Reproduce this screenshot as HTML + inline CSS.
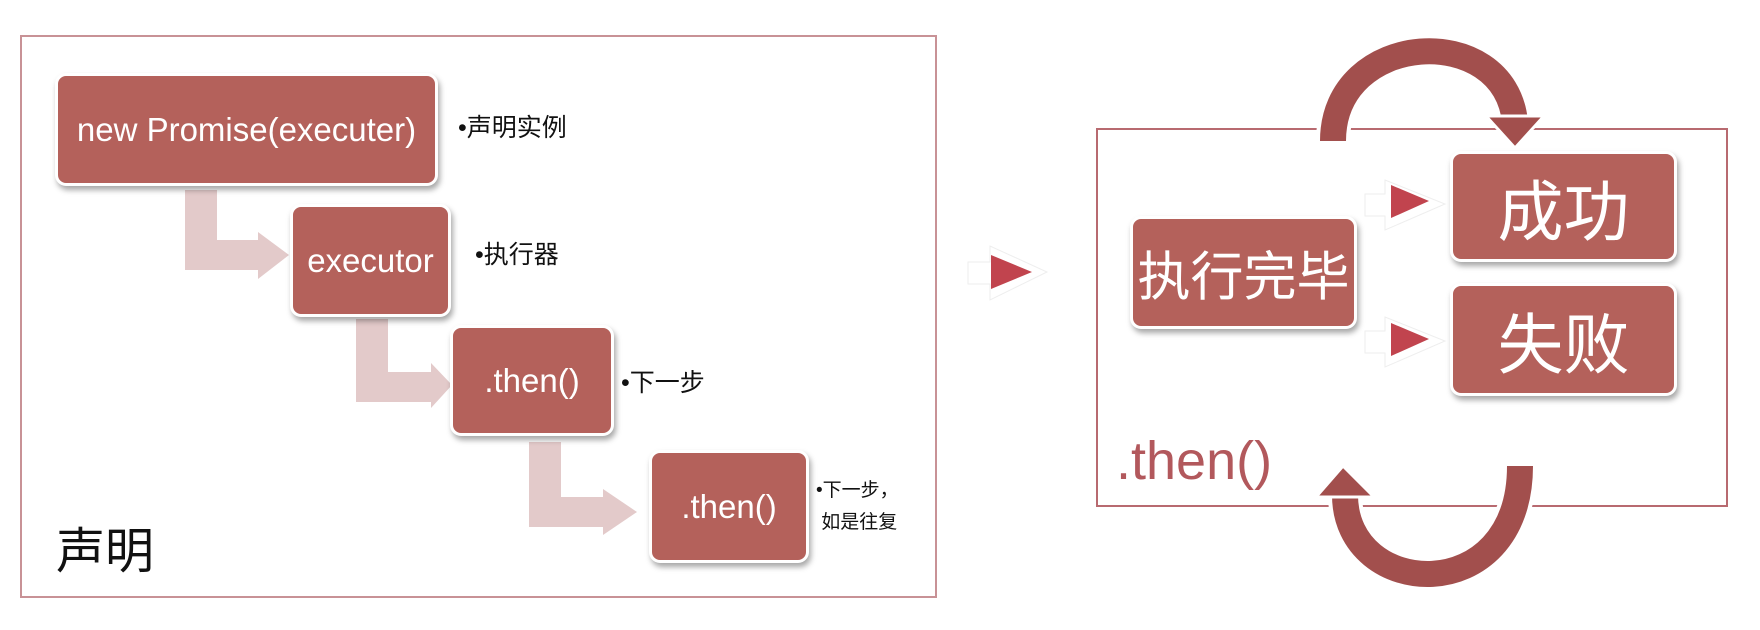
<!DOCTYPE html>
<html><head><meta charset="utf-8"><style>
body{margin:0;width:1760px;height:630px;background:#fff;position:relative;overflow:hidden;font-family:"Liberation Sans","Noto Sans CJK SC",sans-serif}
.a{position:absolute}
.box{position:absolute;background:#b4615b;border:3px solid #fff;border-radius:11px;box-shadow:2px 4px 6px rgba(0,0,0,.35);color:#fff;display:flex;align-items:center;justify-content:center;box-sizing:border-box;white-space:nowrap}
.cj{font-family:'Noto Sans CJK SC',sans-serif}
.lbl{position:absolute;color:#111;font-size:25px;white-space:nowrap}
</style></head><body>
<div class="a" style="left:20px;top:35px;width:917px;height:563px;border:2px solid #c89296;box-sizing:border-box"></div>
<svg class="a" style="left:0;top:0" width="1760" height="630">
<g fill="#e3caca">
<rect x="185" y="190" width="32" height="80"/><rect x="185" y="240" width="75" height="30"/><polygon points="258,232 289,255 258,279"/>
<rect x="356" y="319" width="32" height="83"/><rect x="356" y="372" width="77" height="30"/><polygon points="431,363 452,385 431,408"/>
<rect x="529" y="442" width="32" height="85"/><rect x="529" y="497" width="76" height="30"/><polygon points="603,489 637,512 603,535"/>
</g>
<rect x="1097" y="129" width="630" height="377" fill="none" stroke="#b86a70" stroke-width="2"/>
<g>
<polygon points="968,262 990,262 990,246 1047,272 990,300 990,284 968,284" fill="#fff" stroke="#eee" stroke-width="1"/>
<polygon points="991,255 1032,272 991,289" fill="#c1444e"/>
<polygon points="1365,194 1385,194 1385,180 1445,204 1385,230 1385,216 1365,216" fill="#fff" stroke="#eee"/>
<polygon points="1391,185 1429,201 1391,218" fill="#c1444e"/>
<polygon points="1365,331 1385,331 1385,317 1445,341 1385,367 1385,353 1365,353" fill="#fff" stroke="#eee"/>
<polygon points="1391,323 1429,339 1391,356" fill="#c1444e"/>
</g>
<g fill="none" stroke-linecap="butt">
<path d="M1333,141 C1333,30 1505,20 1515,122" stroke="#fff" stroke-width="34"/>
<path d="M1333,141 C1333,30 1505,20 1515,122" stroke="#a24f4d" stroke-width="26"/>
<path d="M1520,466 C1520,610 1345,600 1345,495" stroke="#fff" stroke-width="34"/>
<path d="M1520,466 C1520,610 1345,600 1345,495" stroke="#a24f4d" stroke-width="26"/>
</g>
<polygon points="1486,116 1544,116 1515,148" fill="#a24f4d" stroke="#fff" stroke-width="3"/>
<polygon points="1316,497 1374,497 1343,466" fill="#a24f4d" stroke="#fff" stroke-width="3"/>
</svg>
<div class="box" style="left:55px;top:73px;width:383px;height:113px;font-size:33px">new Promise(executer)</div>
<div class="box" style="left:290px;top:204px;width:161px;height:113px;font-size:33px">executor</div>
<div class="box" style="left:450px;top:325px;width:164px;height:111px;font-size:33px">.then()</div>
<div class="box" style="left:649px;top:450px;width:160px;height:113px;font-size:33px">.then()</div>
<div class="lbl" style="left:458px;top:108px">•声明实例</div>
<div class="lbl" style="left:475px;top:235px">•执行器</div>
<div class="lbl" style="left:621px;top:363px">•下一步</div>
<div class="lbl" style="left:816px;top:475px;font-size:19px;line-height:32px">•下一步，<br>&nbsp;如是往复</div>
<div class="lbl" style="left:56px;top:512px;font-size:49px">声明</div>
<div class="box cj" style="left:1130px;top:216px;width:227px;height:113px;font-size:53px">执行完毕</div>
<div class="box cj" style="left:1450px;top:151px;width:227px;height:111px;font-size:66px">成功</div>
<div class="box cj" style="left:1450px;top:283px;width:227px;height:113px;font-size:66px">失败</div>
<div class="lbl" style="left:1116px;top:430px;font-size:54px;color:#b2585c">.then()</div>
</body></html>
